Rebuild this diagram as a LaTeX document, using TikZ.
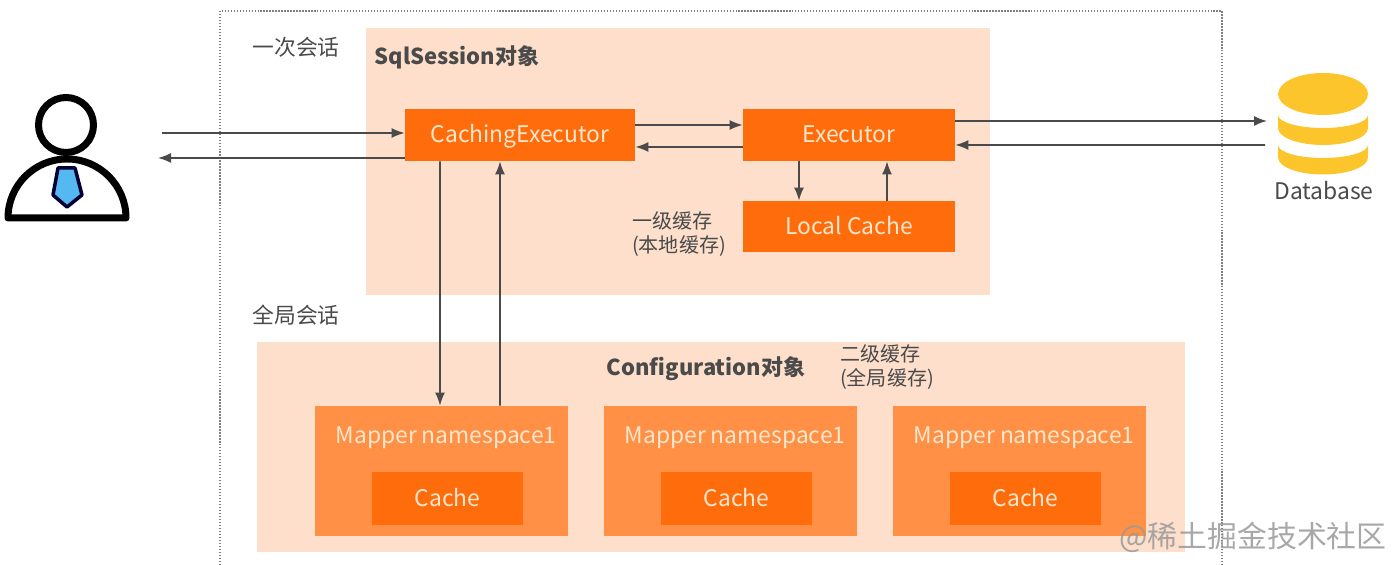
\documentclass[tikz,border=0pt]{standalone}
\usepackage{fontspec}
\setmainfont{Noto Sans CJK SC}
\usetikzlibrary{arrows.meta}
\definecolor{palebg}{HTML}{FDDFCB}
\definecolor{midorange}{HTML}{FF9045}
\definecolor{deeporange}{HTML}{FF6C0C}
\definecolor{creamtext}{HTML}{FFE6CC}
\definecolor{darktext}{HTML}{4A4A4A}
\definecolor{dbyellow}{HTML}{FBC52B}
\definecolor{tieblue}{HTML}{55B8F0}
\tikzset{
    region/.style={fill=palebg, inner sep=0pt},
    orangebox/.style={fill=deeporange, text=creamtext, font=\fontsize{13}{15}\selectfont, inner sep=0pt, text height=1.1em, text depth=0.2em},
    mapperbox/.style={fill=midorange, inner sep=0pt, minimum width=5.06cm, minimum height=2.6cm},
    cachebox/.style={orangebox, minimum width=3.02cm, minimum height=1.06cm},
    maplabel/.style={text=creamtext, font=\fontsize{13}{15}\selectfont, inner sep=0pt, text height=1.1em, text depth=0.2em},
    note/.style={text=darktext, font=\fontsize{11.4}{14}\selectfont, align=left, inner sep=0pt},
    heading/.style={text=darktext, font=\fontsize{12.5}{15}\selectfont\bfseries, inner sep=0pt},
    flow/.style={-{Latex[length=2.6mm,width=2mm]}, draw=darktext, line width=0.9pt},
}
\begin{document}
\begin{tikzpicture}
    \useasboundingbox (0,0) rectangle (28,11.3);

    % Outer frame
    \draw[darktext!70, densely dotted, line width=0.7pt] (4.4,0) -- (4.4,11.08) -- (24.44,11.08) -- (24.44,0);

    % Regions
    \node[region, minimum width=12.48cm, minimum height=5.34cm] (session) at (13.56,8.07) {};
    \node[region, minimum width=18.56cm, minimum height=4.2cm] (config) at (14.42,2.36) {};

    % Nodes
    \node[orangebox, minimum width=4.6cm, minimum height=1.04cm] (caching) at (10.4,8.6) {CachingExecutor};
    \node[orangebox, minimum width=4.24cm, minimum height=1.04cm] (executor) at (16.98,8.6) {Executor};
    \node[orangebox, minimum width=4.24cm, minimum height=1.02cm] (localcache) at (16.98,6.77) {Local Cache};

    \node[mapperbox] (mappera) at (8.83,1.88) {};
    \node[mapperbox] (mapperb) at (14.61,1.88) {};
    \node[mapperbox] (mapperc) at (20.39,1.88) {};
    \node[maplabel] (mapperlabela) at (8.92,2.58) {Mapper namespace1};
    \node[maplabel] (mapperlabelb) at (14.70,2.58) {Mapper namespace1};
    \node[maplabel] (mapperlabelc) at (20.48,2.58) {Mapper namespace1};
    \node[cachebox] (cachea) at (8.95,1.33) {Cache};
    \node[cachebox] (cacheb) at (14.73,1.33) {Cache};
    \node[cachebox] (cachec) at (20.51,1.33) {Cache};

    % Labels
    \node[note, font=\fontsize{12.4}{15}\selectfont] (oncelabel) at (5.92,10.36) {一次会话};
    \node[note, font=\fontsize{12.4}{15}\selectfont] (globallabel) at (5.92,5.0) {全局会话};
    \node[heading] (sessionlabel) at (9.14,10.16) {SqlSession对象};
    \node[heading] (configlabel) at (14.12,3.92) {Configuration对象};
    \node[note] (levelone) at (13.58,6.62) {一级缓存\\(本地缓存)};
    \node[note] (leveltwo) at (17.74,3.96) {二级缓存\\(全局缓存)};

    % User
    \draw[black, line width=0.14cm] (1.32,8.8) circle (0.55);
    \draw[black, line width=0.14cm, line join=round] (0.16,6.94) arc (180:0:1.18) -- cycle;
    \draw[fill=tieblue, draw=black!80!blue, line width=0.07cm, line join=round]
        (1.16,7.94) -- (1.5,7.94) -- (1.64,7.4) -- (1.34,7.16) -- (1.06,7.4) -- cycle;
    \coordinate (userin) at (3.24,8.64);
    \coordinate (userout) at (3.16,8.14);

    % Database
    \fill[dbyellow] (25.56,8.4) -- (25.56,8.15) arc (180:360:0.9 and 0.34) -- (27.36,8.4) arc (0:-180:0.9 and 0.26) -- cycle;
    \fill[dbyellow] (25.56,9.0) -- (25.56,8.74) arc (180:360:0.9 and 0.34) -- (27.36,9.0) arc (0:-180:0.9 and 0.26) -- cycle;
    \fill[dbyellow] (26.46,9.42) ellipse (0.9 and 0.42);
    \node[note, font=\fontsize{13}{15}\selectfont] (dblabel) at (26.48,7.48) {Database};
    \coordinate (dbin) at (25.34,8.88);
    \coordinate (dbout) at (25.3,8.4);

    % Arrows
    \draw[flow] (userin) -- ([yshift=0.04cm]caching.west);
    \draw[flow] ([yshift=-0.46cm]caching.west) -- (userout);
    \draw[flow] ([yshift=0.2cm]caching.east) -- ([yshift=0.2cm]executor.west);
    \draw[flow] ([yshift=-0.24cm]executor.west) -- ([yshift=-0.24cm]caching.east);
    \draw[flow] ([yshift=0.28cm]executor.east) -- (dbin);
    \draw[flow] (dbout) -- ([yshift=-0.2cm]executor.east);
    \draw[flow] ([xshift=-1cm]executor.south) -- ([xshift=-1cm]localcache.north);
    \draw[flow] ([xshift=0.76cm]localcache.north) -- ([xshift=0.76cm]executor.south);
    \draw[flow] ([xshift=-1.6cm]caching.south) -- ([xshift=-0.03cm]mappera.north);
    \draw[flow] ([xshift=1.17cm]mappera.north) -- ([xshift=-0.4cm]caching.south);

    % Watermark
    \node[text=gray!80, opacity=0.85, font=\fontsize{17}{19}\selectfont, inner sep=0pt] (watermark) at (25.06,0.56) {@稀土掘金技术社区};
\end{tikzpicture}
\end{document}
